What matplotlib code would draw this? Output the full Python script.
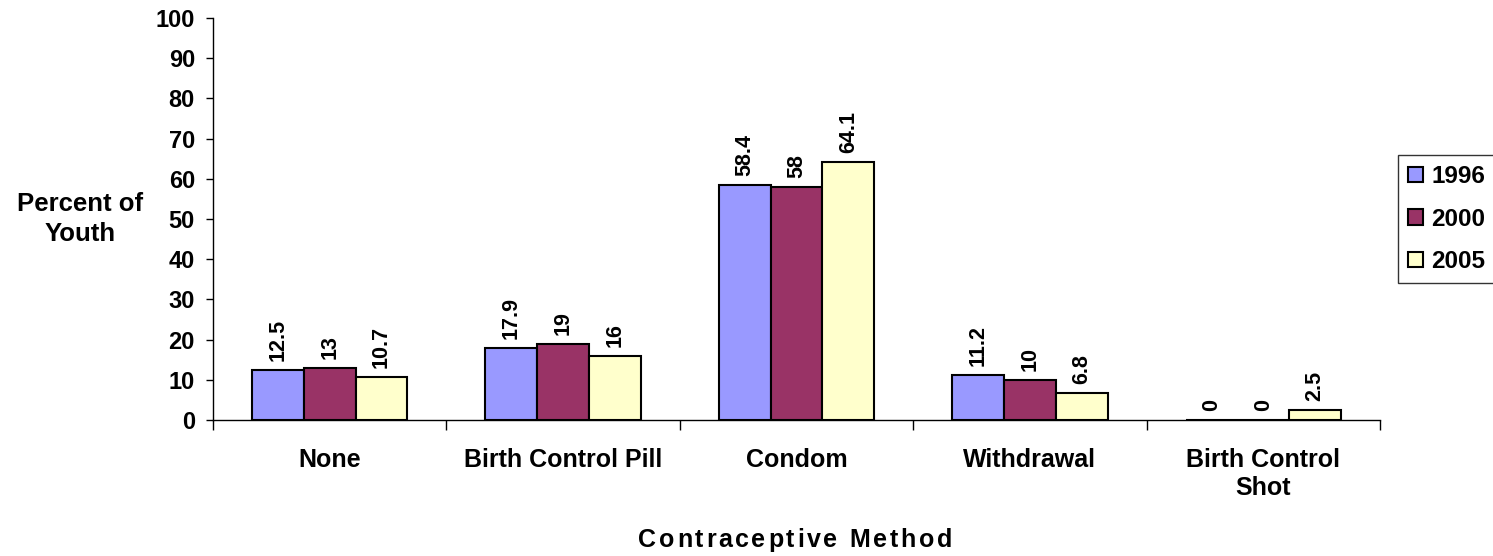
import matplotlib
matplotlib.use("Agg")
import matplotlib.pyplot as plt
from matplotlib.font_manager import FontProperties, findfont, get_font
import numpy as np

categories = ["None", "Birth Control Pill", "Condom", "Withdrawal", "Birth Control\nShot"]
years = ["1996", "2000", "2005"]
values_1996 = [12.5, 17.9, 58.4, 11.2, 0]
values_2000 = [13, 19, 58, 10, 0]
values_2005 = [10.7, 16, 64.1, 6.8, 2.5]
colors = ["#9999FF", "#993366", "#FFFFCC"]

plt.rcParams['font.family'] = ['Liberation Sans', 'DejaVu Sans']
plt.rcParams['font.weight'] = 'bold'

W, H = 1493, 556
fig = plt.figure(figsize=(W / 100, H / 100), dpi=100)
ax = fig.add_axes([0.1427, 0.2446, 0.7816, 0.723])

x = np.arange(len(categories))
w = 0.222
series = [values_1996, values_2000, values_2005]
for i, (vals, col, yr) in enumerate(zip(series, colors, years)):
    bars = ax.bar(x + (i - 1) * w, vals, w, color=col, edgecolor='black',
                  linewidth=1.5, label=yr)
    for b, v in zip(bars, vals):
        ax.annotate(f"{v:g}", (b.get_x() + b.get_width() / 2, b.get_height()),
                    xytext=(0, 6.5), textcoords='offset points', rotation=90,
                    ha='center', va='bottom', fontsize=15.5, fontweight='bold')

ax.set_xlim(-0.5, 4.5)
ax.set_ylim(0, 100)
ax.set_yticks(range(0, 101, 10))
ax.tick_params(axis='y', labelsize=17, length=5, width=1, pad=8)
ax.set_xticks(x)
ax.set_xticklabels(categories, fontsize=18, fontweight='bold')
ax.set_xticks(np.arange(-0.5, 5, 1), minor=True)
ax.tick_params(axis='x', which='major', length=0, pad=20)
ax.tick_params(axis='x', which='minor', length=7, width=1)
for s in ['top', 'right']:
    ax.spines[s].set_visible(False)
for s in ['left', 'bottom']:
    ax.spines[s].set_linewidth(1)

# y label, horizontal, left of the axis
fig.text(80 / W, 1 - 219 / H, "Percent of\nYouth", fontsize=18.5, fontweight='bold',
         ha='center', va='center', linespacing=1.3)

# x label with letter spacing, as in the original
title = "Contraceptive Method"
fsize = 18
font = get_font(findfont(FontProperties(family='Liberation Sans', weight='bold')))
font.set_size(fsize, 100)
adv = [font.load_char(ord(c)).linearHoriAdvance / 65536 for c in title]
spacing = 2.7
total = sum(adv) + spacing * (len(title) - 1)
xpos = 795 - total / 2
for c, a in zip(title, adv):
    fig.text(xpos / W, 9 / H, c, fontsize=fsize, fontweight='bold',
             ha='left', va='baseline')
    xpos += a + spacing

leg = ax.legend(loc='center left', bbox_to_anchor=(1.0154, 0.5), fontsize=17.5,
                frameon=True, fancybox=False, edgecolor='black', borderaxespad=0,
                handlelength=0.6, handleheight=0.6, handletextpad=0.35,
                labelspacing=0.8, borderpad=0.42)
leg.get_frame().set_linewidth(1)

plt.savefig("out.png", dpi=100)
